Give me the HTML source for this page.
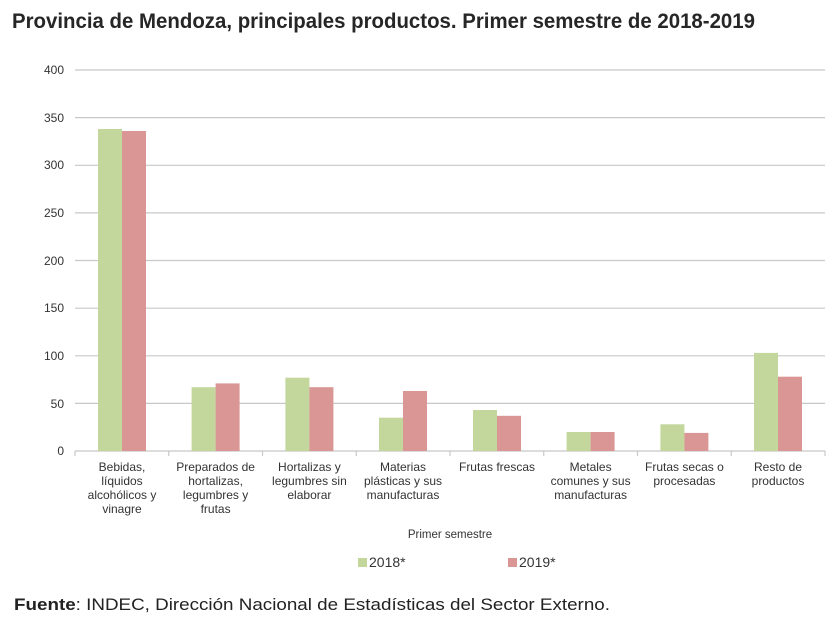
<!DOCTYPE html>
<html><head><meta charset="utf-8"><style>
body{margin:0;background:#fff;}
svg{display:block;font-family:"Liberation Sans",Arial,sans-serif;}
</style></head><body>
<svg width="835" height="622" viewBox="0 0 835 622" xmlns="http://www.w3.org/2000/svg">
<rect width="835" height="622" fill="#fff"/>
<text x="12" y="28" font-family="'Liberation Sans Narrow','Liberation Sans',sans-serif" font-weight="bold" font-size="21" fill="#262626" textLength="743" lengthAdjust="spacingAndGlyphs">Provincia de Mendoza, principales productos. Primer semestre de 2018-2019</text>
<g stroke="#c8c8c8" stroke-width="1.2">
<line x1="75" x2="825" y1="70" y2="70"/>
<line x1="75" x2="825" y1="117.6" y2="117.6"/>
<line x1="75" x2="825" y1="165.3" y2="165.3"/>
<line x1="75" x2="825" y1="212.9" y2="212.9"/>
<line x1="75" x2="825" y1="260.5" y2="260.5"/>
<line x1="75" x2="825" y1="308.2" y2="308.2"/>
<line x1="75" x2="825" y1="355.8" y2="355.8"/>
<line x1="75" x2="825" y1="403.4" y2="403.4"/>
<line x1="75" x2="825" y1="451" y2="451"/>
<line x1="75" x2="75" y1="451" y2="456"/><line x1="168.75" x2="168.75" y1="451" y2="456"/><line x1="262.5" x2="262.5" y1="451" y2="456"/><line x1="356.25" x2="356.25" y1="451" y2="456"/><line x1="450" x2="450" y1="451" y2="456"/><line x1="543.75" x2="543.75" y1="451" y2="456"/><line x1="637.5" x2="637.5" y1="451" y2="456"/><line x1="731.25" x2="731.25" y1="451" y2="456"/><line x1="825" x2="825" y1="451" y2="456"/>
</g>
<g font-size="12" fill="#333" text-anchor="end">
<text x="64" y="74">400</text><text x="64" y="122">350</text><text x="64" y="169">300</text><text x="64" y="217">250</text><text x="64" y="265">200</text><text x="64" y="312">150</text><text x="64" y="360">100</text><text x="64" y="408">50</text><text x="64" y="455">0</text>
</g>
<g fill="#c3d69b">
<rect x="98" y="129" width="24" height="322"/>
<rect x="191.6" y="387.2" width="24" height="63.8"/>
<rect x="285.4" y="377.7" width="24" height="73.3"/>
<rect x="379" y="417.7" width="24" height="33.3"/>
<rect x="473" y="410" width="24" height="41"/>
<rect x="566.6" y="432" width="24" height="19"/>
<rect x="660.4" y="424.3" width="24" height="26.7"/>
<rect x="754" y="352.9" width="24" height="98.1"/>
</g>
<g fill="#d99694">
<rect x="122" y="131" width="24" height="320"/>
<rect x="215.6" y="383.4" width="24" height="67.6"/>
<rect x="309.4" y="387.2" width="24" height="63.8"/>
<rect x="403" y="391" width="24" height="60"/>
<rect x="497" y="415.8" width="24" height="35.2"/>
<rect x="590.6" y="432" width="24" height="19"/>
<rect x="684.4" y="432.9" width="24" height="18.1"/>
<rect x="778" y="376.7" width="24" height="74.3"/>
</g>
<g font-size="12" fill="#333" text-anchor="middle">
<text x="122" y="471">Bebidas,</text><text x="122" y="485">líquidos</text><text x="122" y="499">alcohólicos y</text><text x="122" y="513">vinagre</text>
<text x="215.6" y="471">Preparados de</text><text x="215.6" y="485">hortalizas,</text><text x="215.6" y="499">legumbres y</text><text x="215.6" y="513">frutas</text>
<text x="309.4" y="471">Hortalizas y</text><text x="309.4" y="485">legumbres sin</text><text x="309.4" y="499">elaborar</text>
<text x="403" y="471">Materias</text><text x="403" y="485">plásticas y sus</text><text x="403" y="499">manufacturas</text>
<text x="497" y="471">Frutas frescas</text>
<text x="590.6" y="471">Metales</text><text x="590.6" y="485">comunes y sus</text><text x="590.6" y="499">manufacturas</text>
<text x="684.4" y="471">Frutas secas o</text><text x="684.4" y="485">procesadas</text>
<text x="778" y="471">Resto de</text><text x="778" y="485">productos</text>
<text x="450" y="538" font-size="11.5">Primer semestre</text>
</g>
<rect x="358" y="558" width="9" height="9" fill="#c3d69b"/>
<text x="369" y="567" font-size="14" fill="#333">2018*</text>
<rect x="508" y="558" width="9" height="9" fill="#d99694"/>
<text x="519" y="567" font-size="14" fill="#333">2019*</text>
<text x="14" y="610" font-size="17" fill="#222" textLength="596" lengthAdjust="spacingAndGlyphs"><tspan font-weight="bold">Fuente</tspan>: INDEC, Dirección Nacional de Estadísticas del Sector Externo.</text>
</svg>
</body></html>
